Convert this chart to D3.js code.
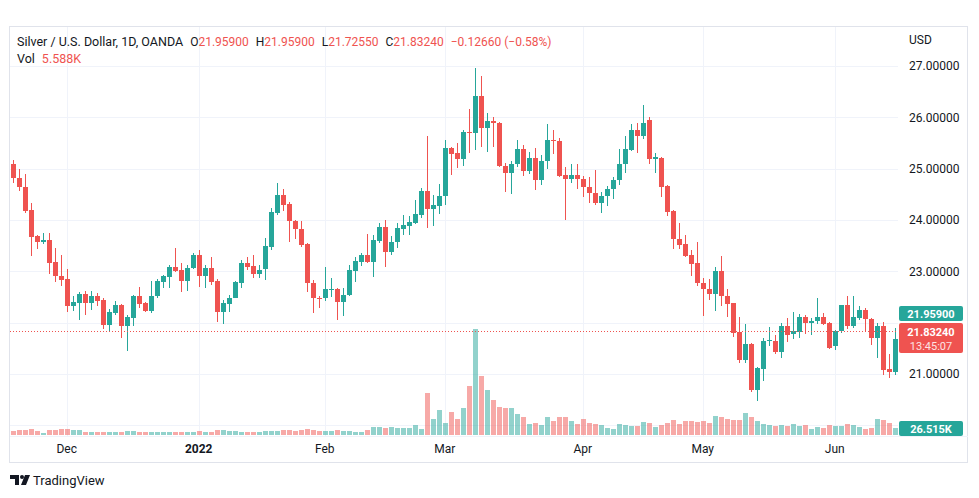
<!DOCTYPE html>
<html><head><meta charset="utf-8">
<script src="https://cdn.jsdelivr.net/npm/d3@7"></script>
<style>
body{margin:0;background:#fff;}
svg text{font-family:"Trebuchet MS",Roboto,"Open Sans",sans-serif;}
</style>
</head><body>
<svg id="chart" width="979" height="498"></svg>
<script>
// ---- data (Silver / U.S. Dollar, 1D, OANDA) ----
const startDate = "2021-11-18";
const endDate = "2022-06-16";
const holidays = ["2021-12-24", "2022-04-15"];

const open = [
25.09,24.81,24.64,24.20,23.68,23.57,23.61,23.18,22.91,22.85,
22.33,22.39,22.56,22.39,22.51,22.44,21.96,22.18,22.35,21.94,
22.10,22.51,22.38,22.23,22.51,22.80,22.88,23.08,23.03,22.82,
23.06,23.31,22.90,23.06,22.81,22.20,22.37,22.48,22.78,23.16,
23.10,22.95,23.04,23.48,24.14,24.49,24.31,23.99,23.83,23.53,
22.77,22.49,22.48,22.64,22.65,22.41,22.53,23.01,23.19,23.32,
23.19,23.60,23.86,23.37,23.58,23.82,23.88,23.94,24.10,24.56,
24.21,24.27,24.46,25.40,25.30,25.19,25.72,25.69,26.42,25.80,
25.93,25.88,25.06,24.91,25.10,25.38,24.96,25.20,24.77,25.14,
25.56,25.54,24.88,24.79,24.88,24.80,24.64,24.53,24.33,24.46,
24.60,24.77,25.09,25.36,25.75,25.64,25.95,25.18,25.20,24.66,
24.18,23.63,23.53,23.32,23.16,22.77,22.65,22.56,23.01,22.51,
22.38,21.81,21.27,21.59,20.68,21.10,21.64,21.64,21.42,21.94,
21.78,21.81,22.11,22.00,22.03,22.11,22.00,21.55,21.83,22.34,
21.93,22.09,22.25,22.07,21.70,21.93,21.09,21.03,21.959];

const high = [
25.17,24.99,24.90,24.34,23.71,23.74,23.74,23.45,23.31,23.04,
22.52,22.59,22.61,22.62,22.57,22.48,22.26,22.42,22.36,22.15,
22.54,22.70,22.41,22.81,22.85,22.93,23.12,23.45,23.16,23.12,
23.35,23.42,23.12,23.27,22.85,22.44,22.53,22.81,23.23,23.27,
23.32,23.12,23.64,24.23,24.72,24.60,24.35,24.00,23.99,23.55,
22.83,22.51,23.08,22.87,22.67,22.67,23.12,23.27,23.36,23.73,
23.71,23.95,24.00,23.69,23.94,24.10,24.07,24.39,24.62,25.64,
24.49,24.70,25.56,25.42,25.50,25.75,26.16,26.97,26.81,26.08,
26.00,25.90,25.12,25.14,25.56,25.46,25.33,25.40,25.27,25.87,
25.75,25.60,25.04,25.09,25.10,24.86,24.83,24.97,24.55,24.66,
24.83,25.38,25.64,25.87,25.88,26.24,26.00,25.30,25.22,24.68,
24.20,23.94,23.71,23.42,23.57,22.87,22.85,23.09,23.30,22.65,
22.39,22.11,21.97,21.60,21.14,21.71,21.92,21.76,22.00,22.09,
22.20,22.17,22.15,22.09,22.48,22.18,22.02,21.86,22.35,22.51,
22.52,22.32,22.28,22.09,22.00,22.02,21.39,21.90,21.959];

const low = [
24.72,24.57,24.13,23.29,23.43,23.53,22.95,22.79,22.72,22.21,
22.23,22.05,22.15,22.25,22.33,21.88,21.84,22.15,21.71,21.44,
21.94,22.28,22.21,22.19,22.49,22.67,22.67,22.99,22.60,22.62,
23.04,22.70,22.67,22.74,22.02,21.98,22.21,22.48,22.67,23.03,
22.87,22.87,22.83,23.42,24.10,24.18,23.58,23.63,23.47,22.60,
22.19,22.28,22.43,22.50,22.05,22.13,22.51,22.80,23.11,23.16,
22.88,23.55,23.09,23.31,23.45,23.71,23.71,23.92,24.03,23.84,
23.88,24.12,24.29,24.88,25.01,25.05,25.31,25.36,25.43,25.33,
25.43,25.04,24.55,24.50,25.04,24.86,24.90,24.59,24.68,24.99,
25.29,24.83,24.00,24.72,24.60,24.44,24.33,24.29,24.14,24.27,
24.40,24.68,24.91,25.35,25.30,25.58,25.10,24.92,24.44,24.07,
23.43,23.43,23.27,22.91,22.72,22.13,22.44,22.23,22.33,22.11,
21.72,21.21,21.22,20.64,20.48,20.87,21.54,21.39,21.31,21.63,
21.68,21.70,21.78,21.76,21.98,21.96,21.48,21.46,21.80,21.87,
21.89,22.05,21.83,21.57,21.31,20.98,20.92,20.98,21.7255];

const close = [
24.82,24.64,24.18,23.66,23.57,23.61,23.17,22.90,22.83,22.33,
22.40,22.56,22.39,22.51,22.43,21.96,22.21,22.35,21.94,22.12,
22.51,22.36,22.23,22.52,22.81,22.90,23.08,23.01,22.82,23.06,
23.31,22.90,23.06,22.80,22.20,22.38,22.48,22.79,23.16,23.09,
22.95,23.03,23.49,24.15,24.49,24.29,23.99,23.82,23.51,22.77,
22.48,22.46,22.65,22.65,22.41,22.53,23.03,23.20,23.32,23.19,
23.61,23.86,23.37,23.58,23.84,23.90,23.97,24.12,24.57,24.21,
24.29,24.47,25.40,25.29,25.19,25.72,25.69,26.42,25.80,25.93,
25.88,25.06,24.91,25.10,25.38,24.96,25.20,24.77,25.15,25.56,
25.53,24.86,24.79,24.88,24.79,24.64,24.53,24.33,24.46,24.60,
24.77,25.10,25.38,25.75,25.64,25.88,25.19,25.22,24.65,24.16,
23.63,23.51,23.30,23.14,22.77,22.65,22.56,23.01,22.51,22.36,
21.80,21.27,21.59,20.68,21.12,21.64,21.66,21.42,21.94,21.76,
21.83,22.11,22.00,22.04,22.11,21.98,21.50,21.84,22.34,21.93,
22.11,22.25,22.07,21.70,21.93,21.08,21.03,21.68,21.8324];

// volume in thousands
const volume = [
17,20,20,24,17,9,20,20,23,24,
20,20,13,13,13,13,13,13,13,17,
17,13,13,13,11,11,13,13,13,13,
13,17,13,13,20,20,16,16,13,13,
13,11,17,17,17,20,20,17,20,23,
20,17,17,17,20,17,17,13,13,20,
32,32,28,32,28,28,28,40,24,164,
64,96,48,88,64,104,192,412,228,176,
136,108,104,104,80,68,44,48,40,68,
56,68,68,56,44,64,48,44,40,28,
24,44,40,36,36,52,48,32,40,48,
60,44,56,56,52,56,48,72,68,64,
60,60,84,68,56,44,40,36,40,36,
44,36,40,24,32,28,40,36,36,44,
40,32,24,28,64,60,48,26.515,5.588];

const priceTicks = [20,21,22,23,24,25,26,27];
// labels hidden behind the last-price boxes in the reference
const hiddenPriceLabels = [22];
const monthTickDates = ["2021-12-01","2022-01-03","2022-02-01","2022-03-01","2022-04-01","2022-05-02","2022-06-01"];
const monthTickLabels = ["Dec","2022","Feb","Mar","Apr","May","Jun"];
const lastPrice = 21.8324, prevLabelPrice = 21.959;
const header = {title:"Silver / U.S. Dollar, 1D, OANDA", o:"21.95900", h:"21.95900", l:"21.72550", c:"21.83240", chg:"\u22120.12660 (\u22120.58%)", vol:"5.588K"};

// ---- build ----
const fmt = d3.utcFormat("%Y-%m-%d");
const dates = d3.utcDay.range(new Date(startDate+"T00:00:00Z"), d3.utcDay.offset(new Date(endDate+"T00:00:00Z"),1))
  .filter(d => d.getUTCDay()!==0 && d.getUTCDay()!==6 && !holidays.includes(fmt(d)))
  .map(fmt);
const data = dates.map((d,i)=>({date:d,o:open[i],h:high[i],l:low[i],c:close[i],v:volume[i]}));

const UP="#26a69a", DOWN="#ef5350", TXT="#131722", GRID="#f0f3fa";
const svg = d3.select("#chart");
const W=979,H=498;
const pane = {l:10, r:898, t:27, b:436};

svg.append("rect").attr("width",W).attr("height",H).attr("fill","#fff");

const x = d3.scaleBand().domain(dates).range([9.7, 9.7+6*dates.length]).paddingInner(0.25).paddingOuter(0.125);
const y = d3.scaleLinear().domain([21,27]).range([374,66]);
const vy = d3.scaleLinear().domain([0,400]).range([435,332]);
const cx = d => Math.round(x(d)+x.bandwidth()/2);

// clips
const defs = svg.append("defs");
defs.append("clipPath").attr("id","pc").append("rect")
  .attr("x",pane.l).attr("y",pane.t).attr("width",pane.r-pane.l).attr("height",pane.b-pane.t);
defs.append("clipPath").attr("id","axc").append("rect")
  .attr("x",898).attr("y",pane.t).attr("width",70).attr("height",421-pane.t);

// grid
const grid = svg.append("g").attr("clip-path","url(#pc)");
grid.selectAll("line.h").data(priceTicks).join("line")
  .attr("x1",pane.l).attr("x2",pane.r).attr("y1",d=>Math.round(y(d))+0.5).attr("y2",d=>Math.round(y(d))+0.5)
  .attr("stroke",GRID).attr("stroke-width",1);
grid.selectAll("line.v").data(monthTickDates).join("line")
  .attr("y1",pane.t).attr("y2",pane.b).attr("x1",d=>cx(d)+0.5).attr("x2",d=>cx(d)+0.5)
  .attr("stroke",GRID).attr("stroke-width",1);

const plot = svg.append("g").attr("clip-path","url(#pc)").attr("shape-rendering","crispEdges");

// volume
plot.selectAll("rect.vol").data(data).join("rect")
  .attr("x",d=>cx(d.date)-2).attr("width",5)
  .attr("y",d=>vy(d.v)).attr("height",d=>Math.max(1,vy(0)-vy(d.v)))
  .attr("fill",d=>d.c>=d.o?UP:DOWN).attr("fill-opacity",0.5);

// candles
plot.selectAll("rect.wick").data(data).join("rect")
  .attr("x",d=>cx(d.date)).attr("width",1)
  .attr("y",d=>y(d.h)).attr("height",d=>Math.max(1,y(d.l)-y(d.h)))
  .attr("fill",d=>d.c>=d.o?UP:DOWN);
plot.selectAll("rect.body").data(data).join("rect")
  .attr("x",d=>cx(d.date)-2).attr("width",5)
  .attr("y",d=>y(Math.max(d.o,d.c))).attr("height",d=>Math.max(1,Math.abs(y(d.o)-y(d.c))))
  .attr("fill",d=>d.c>=d.o?UP:DOWN);

// last price dotted line
svg.append("line").attr("x1",pane.l).attr("x2",pane.r)
  .attr("y1",Math.round(y(lastPrice))+0.5).attr("y2",Math.round(y(lastPrice))+0.5)
  .attr("stroke",DOWN).attr("stroke-width",1).attr("stroke-dasharray","1,2");

// price axis
const pAxis = d3.axisRight(y).tickValues(priceTicks.filter(v=>!hiddenPriceLabels.includes(v)))
  .tickSize(0).tickPadding(0).tickFormat(d=>d.toFixed(5));
const pa = svg.append("g").attr("clip-path","url(#axc)").append("g").attr("transform",`translate(909,0)`).call(pAxis);
pa.select(".domain").remove();
pa.selectAll("text").attr("font-size",12).attr("fill",TXT).attr("font-family",'"Trebuchet MS",Roboto,sans-serif');
svg.append("text").attr("x",909).attr("y",44).attr("font-size",12).attr("fill",TXT).text("USD");

// time axis
const tAxis = d3.axisBottom(x).tickValues(monthTickDates).tickSize(0).tickPadding(0)
  .tickFormat((d,i)=>monthTickLabels[i]);
const ta = svg.append("g").attr("transform",`translate(0,444)`).call(tAxis);
ta.select(".domain").remove();
ta.selectAll("text").attr("font-size",12).attr("fill",TXT).attr("dy","0.71em")
  .attr("font-weight",(d,i)=>monthTickLabels[i]==="2022"?"bold":"normal");

// frame
svg.append("rect").attr("x",pane.l-0.5).attr("y",pane.t-0.5).attr("width",968-pane.l).attr("height",463-pane.t)
  .attr("fill","none").attr("stroke","#e0e3eb").attr("stroke-width",1);
svg.append("line").attr("x1",pane.l).attr("x2",968).attr("y1",436.5).attr("y2",436.5).attr("stroke","#f0f3fa");

// axis labels (boxes)
function box(yTop,h,fill){ svg.append("rect").attr("x",899).attr("y",yTop).attr("width",64).attr("height",h).attr("rx",2).attr("fill",fill); }
box(306,15,UP);
svg.append("text").attr("x",931).attr("y",317.5).attr("text-anchor","middle").attr("font-size",11).attr("font-weight","bold").attr("fill","#fff").text(prevLabelPrice.toFixed(5));
box(323,30,DOWN);
svg.append("text").attr("x",931).attr("y",335.5).attr("text-anchor","middle").attr("font-size",11).attr("font-weight","bold").attr("fill","#fff").text(lastPrice.toFixed(5));
svg.append("text").attr("x",931).attr("y",349.5).attr("text-anchor","middle").attr("font-size",11).attr("fill","#fde3e3").text("13:45:07");
box(421,15,UP);
svg.append("text").attr("x",931).attr("y",432.5).attr("text-anchor","middle").attr("font-size",11).attr("font-weight","bold").attr("fill","#fff").text(volume[volume.length-2].toFixed(3)+"K");

// header
const h1 = svg.append("text").attr("x",17).attr("y",46).attr("font-size",12.5).attr("fill",TXT);
h1.append("tspan").text(header.title);
[["O",header.o],["H",header.h],["L",header.l],["C",header.c]].forEach(([k,v])=>{
  h1.append("tspan").attr("dx",7).attr("fill",TXT).attr("font-size",12).text(k);
  h1.append("tspan").attr("fill",DOWN).attr("font-size",12).text(v);
});
h1.append("tspan").attr("dx",7).attr("fill",DOWN).attr("font-size",12).text(header.chg);
const h2 = svg.append("text").attr("x",17).attr("y",63).attr("font-size",12.5).attr("fill",TXT);
h2.append("tspan").text("Vol");
h2.append("tspan").attr("dx",7).attr("fill",DOWN).text(header.vol);

// footer logo
const lg = svg.append("g").attr("fill",TXT);
lg.append("path").attr("d","M10,475 H19 V485 H15 V479 H10 Z");
lg.append("circle").attr("cx",22).attr("cy",477).attr("r",2);
lg.append("path").attr("d","M25,475 H30 L26,485 H21 Z");
svg.append("text").attr("x",33).attr("y",485).attr("font-size",13).attr("fill",TXT).text("TradingView");
</script>
</body></html>
